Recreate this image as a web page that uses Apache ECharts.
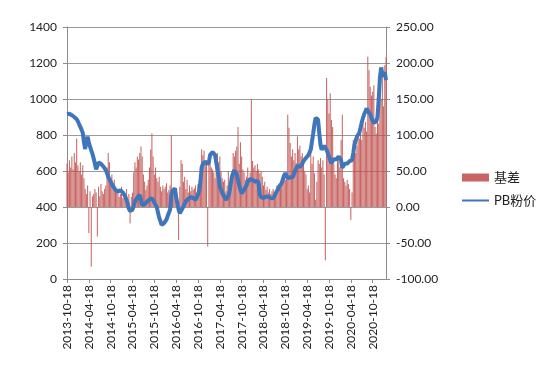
<!DOCTYPE html>
<html>
<head>
<meta charset="utf-8">
<script src="https://cdn.jsdelivr.net/npm/echarts@6.0.0/dist/echarts.min.js"></script>
<style>
  html, body { margin: 0; padding: 0; background: #fff; }
  #chart { width: 550px; height: 365px; }
</style>
</head>
<body>
<div id="chart"></div>
<script>
(function () {
  "use strict";
  const chart = echarts.init(document.getElementById("chart"));

  // 日期：每月 8/18/28 日取样，2013-10-18 ~ 2021-02-08
  const START = "2013-10-18";
  const END = "2021-02-08";
  const SAMPLE_DAYS = [8, 18, 28];
  const LABEL_SUFFIX = ["-04-18", "-10-18"];

  // PB粉价（左轴）
  const pbPrice = [
    915, 920, 918, 912, 910, 905, 900, 895, 888, 875,
    860, 845, 830, 812, 760, 722, 770, 790, 760, 735,
    715, 695, 670, 640, 610, 628, 648, 652, 640, 632,
    625, 620, 605, 588, 568, 555, 540, 528, 515, 505,
    495, 488, 485, 490, 494, 490, 480, 470, 460, 440,
    420, 390, 378, 372, 385, 405, 430, 440, 452, 462,
    467, 440, 410, 402, 415, 425, 430, 438, 442, 448,
    448, 440, 425, 412, 400, 370, 340, 322, 300, 305,
    310, 315, 330, 350, 368, 385, 470, 490, 500, 504,
    455, 420, 385, 365, 372, 390, 402, 418, 432, 440,
    446, 452, 455, 457, 450, 442, 440, 452, 470, 490,
    540, 620, 640, 648, 652, 645, 638, 650, 690, 700,
    705, 707, 690, 650, 610, 570, 513, 495, 478, 467,
    452, 440, 442, 460, 485, 530, 570, 590, 605, 598,
    580, 550, 520, 495, 476, 485, 495, 504, 520, 540,
    548, 555, 560, 552, 545, 540, 550, 545, 532, 467,
    455, 448, 450, 455, 458, 455, 457, 452, 450, 448,
    448, 460, 475, 485, 500, 515, 525, 532, 555, 575,
    587, 575, 560, 562, 565, 568, 565, 580, 600, 615,
    630, 635, 622, 618, 640, 655, 665, 672, 680, 688,
    690, 720, 765, 810, 860, 895, 900, 885, 810, 745,
    718, 725, 740, 742, 718, 700, 680, 660, 643, 650,
    665, 670, 665, 672, 680, 676, 660, 618, 625, 640,
    645, 642, 650, 655, 652, 660, 700, 744, 770, 790,
    800, 812, 840, 870, 895, 915, 930, 948, 935, 925,
    915, 895, 880, 868, 862, 875, 900, 1000, 1120, 1175,
    1140, 1125, 1150, 1105,
  ];

  // 基差（右轴）
  const basis = [
    60, 48, 65, 55, 70, 52, 75, 62, 95, 58,
    50, 62, 45, 58, 40, 25, 18, 30, -36, 22,
    -83, 15, 18, 25, 20, -41, 28, 15, 32, 22,
    18, 25, 30, 55, 75, 62, 40, 45, 32, 38,
    28, 20, 25, 14, 18, 28, 12, 22, 16, 25,
    10, 18, -23, 14, 20, 48, 62, 55, 70, 66,
    75, 84, 70, 45, 35, 24, 30, 38, 55, 80,
    102, 70, 45, 55, 40, 35, 42, 28, 22, 30,
    25, 28, 33, 20, 24, 30, 100, 25, 18, 22,
    20, 15, -46, 28, 65, 60, 35, 42, 25, 38,
    20, 30, 22, 28, 24, 26, 30, 20, 32, 28,
    45, 80, 72, 78, 60, 65, -55, 62, 70, 55,
    52, 48, 40, 60, 75, 62, 70, 50, 40, 35,
    38, 22, 30, 50, 28, 35, 45, 75, 70, 78,
    84, 111, 60, 90, 70, 52, 48, 38, 42, 55,
    40, 48, 150, 64, 55, 58, 50, 60, 52, 47,
    50, 42, 30, 35, 24, 28, 20, 25, 18, 22,
    25, 19, 22, 30, 20, 28, 35, 40, 33, 45,
    38, 47, 128, 110, 89, 70, 80, 65, 75, 61,
    98, 80, 85, 70, 75, 60, 50, 45, 25, 30,
    20, 79, 60, 70, 47, 10, 35, 65, 60, 68,
    55, 65, 45, -74, 179, 150, 130, 158, 121, 111,
    60, 45, 40, 65, 70, 55, 93, 128, 40, 35,
    30, 38, 32, 25, -18, 20, 93, 80, 75, 85,
    100, 95, 102, 93, 116, 110, 118, 105, 209, 190,
    167, 155, 160, 169, 111, 102, 120, 116, 160, 150,
    190, 140, 197, 208,
  ];

  const pad = n => String(n).padStart(2, "0");
  const dates = [];
  for (let y = 2013; y <= 2021; y++) {
    for (let m = 1; m <= 12; m++) {
      SAMPLE_DAYS.forEach(d => {
        const s = `${y}-${pad(m)}-${pad(d)}`;
        if (s >= START && s <= END) dates.push(s);
      });
    }
  }
  const isMajor = (i, v) => LABEL_SUFFIX.some(sfx => v.endsWith(sfx));

  const FONT = 'Lato, "Noto Sans CJK SC", sans-serif';
  const axisGrey = "#8c8c8c";

  chart.setOption({
    animation: false,
    textStyle: { fontFamily: FONT },
    grid: { left: 67, right: 164, top: 27, bottom: 86, containLabel: false },
    legend: {
      orient: "vertical",
      left: 457,
      top: 166,
      itemWidth: 27,
      itemHeight: 8,
      itemGap: 10,
      textStyle: { fontSize: 13, color: "#222", fontFamily: FONT },
      data: [
        { name: "基差", icon: "rect" },
        { name: "PB粉价", icon: "path://M0,0 H27 V2 H0 Z" },
      ],
    },
    xAxis: {
      type: "category",
      data: dates,
      boundaryGap: false,
      axisLine: { lineStyle: { color: axisGrey } },
      axisTick: { interval: isMajor, length: 4, lineStyle: { color: axisGrey } },
      axisLabel: { interval: isMajor, rotate: 90, margin: 6, fontSize: 12, color: "#222" },
      splitLine: { show: false },
    },
    yAxis: [
      {
        type: "value", min: 0, max: 1400, interval: 200,
        axisLine: { show: true, lineStyle: { color: axisGrey } },
        axisTick: { show: true, length: 4, lineStyle: { color: axisGrey } },
        axisLabel: { fontSize: 12, color: "#222", margin: 10, formatter: v => String(v) },
        splitLine: { lineStyle: { color: "#9a9a9a" } },
      },
      {
        type: "value", min: -100, max: 250, interval: 50,
        axisLine: { show: true, lineStyle: { color: axisGrey } },
        axisTick: { show: true, length: 4, lineStyle: { color: axisGrey } },
        axisLabel: { fontSize: 12, color: "#222", margin: 10, formatter: v => v.toFixed(2) },
        splitLine: { show: false },
      },
    ],
    series: [
      {
        name: "基差", type: "bar", yAxisIndex: 1, data: basis,
        barCategoryGap: "15%",
        itemStyle: { color: "#C0504D", opacity: 0.88 },
        z: 2,
      },
      {
        name: "PB粉价", type: "line", yAxisIndex: 0, data: pbPrice,
        symbol: "none", showSymbol: false,
        lineStyle: { color: "#3F75BA", width: 4 },
        itemStyle: { color: "#3F75BA" },
        z: 3,
      },
    ],
  });

  window.addEventListener("resize", () => chart.resize());
})();
</script>
</body>
</html>
